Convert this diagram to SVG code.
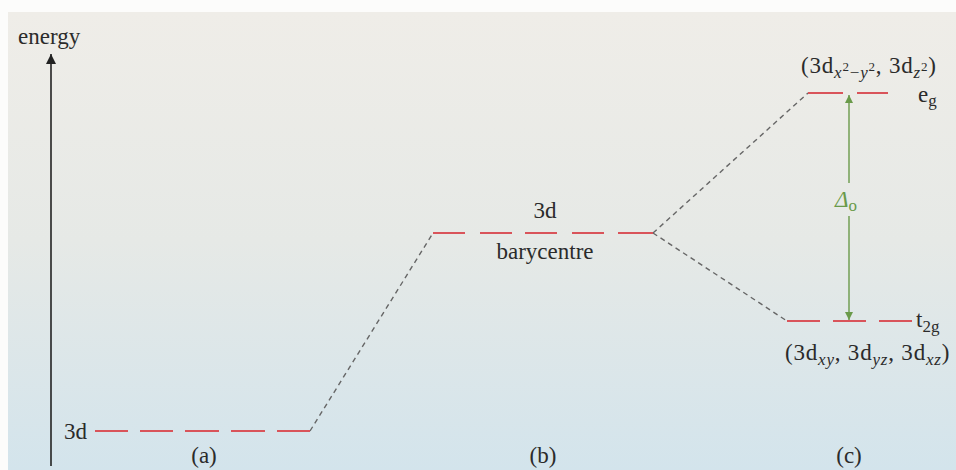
<svg xmlns="http://www.w3.org/2000/svg" width="956" height="470" viewBox="0 0 956 470">
<defs>
<linearGradient id="bg" x1="0" y1="0" x2="0" y2="1">
<stop offset="0" stop-color="#efede8"/>
<stop offset="0.5" stop-color="#e6e9e6"/>
<stop offset="1" stop-color="#d3e4ec"/>
</linearGradient>
<marker id="ah" viewBox="0 0 10 10" refX="10" refY="5" markerWidth="16" markerHeight="10" orient="auto" markerUnits="userSpaceOnUse">
<path d="M0,0 L10,5 L0,10 Z" fill="#222"/>
</marker>
<marker id="gh" viewBox="0 0 10 10" refX="10" refY="5" markerWidth="12" markerHeight="8" orient="auto" markerUnits="userSpaceOnUse">
<path d="M0,0 L10,5 L0,10 Z" fill="#6a9a4a"/>
</marker>
<style>
.t{font-family:"Liberation Serif","Times New Roman",serif;fill:#2b2b2b;font-size:23px;}
.s{font-size:17px;}
.i{font-style:italic;}
.sup{font-size:13px;}
.lvl{stroke:#d9545a;stroke-width:2;fill:none;}
.con{stroke:#666;stroke-width:1.4;stroke-dasharray:5,4;fill:none;}
.g{stroke:#6a9a4a;stroke-width:1.4;}
</style>
</defs>
<rect x="0" y="0" width="956" height="470" fill="#fcfcfb"/>
<rect x="8" y="12" width="948" height="458" fill="url(#bg)"/>

<g id="axis">
<line x1="51" y1="466" x2="51" y2="54" stroke="#222" stroke-width="1.6" marker-end="url(#ah)"/>
<text class="t" x="18" y="44">energy</text>
</g>

<g id="connectors">
<line class="con" x1="310" y1="431" x2="433" y2="233"/>
<line class="con" x1="653" y1="233" x2="808" y2="93"/>
<line class="con" x1="653" y1="233" x2="787" y2="321"/>
<line class="g" x1="849" y1="183" x2="849" y2="95" marker-end="url(#gh)"/>
<line class="g" x1="849" y1="216" x2="849" y2="320" marker-end="url(#gh)"/>
</g>

<g id="level-a">
<path class="lvl" d="M95,431h33M140,431h33M185,431h34M231,431h34M277,431h33"/>
<text class="t" x="64" y="439">3d</text>
<text class="t" x="204" y="463" text-anchor="middle">(a)</text>
</g>

<g id="level-b">
<path class="lvl" d="M433,233h32M480,233h32M525,233h32M572,233h32M618,233h35"/>
<text class="t" x="545" y="218" text-anchor="middle">3d</text>
<text class="t" x="545" y="259" text-anchor="middle">barycentre</text>
<text class="t" x="543" y="463" text-anchor="middle">(b)</text>
</g>

<g id="level-eg">
<path class="lvl" d="M808,93h35M857,93h31"/>
<text class="t" x="918" y="102">e<tspan class="s" dy="4">g</tspan></text>
<text class="t" x="801" y="73" letter-spacing="0.8">(3d<tspan class="s i" dy="5">x</tspan><tspan class="sup" dy="-7">2</tspan><tspan class="s" dy="7">−</tspan><tspan class="s i">y</tspan><tspan class="sup" dy="-7">2</tspan><tspan dy="2">, 3d</tspan><tspan class="s i" dy="5">z</tspan><tspan class="sup" dy="-7">2</tspan><tspan dy="2">)</tspan></text>
</g>

<g id="level-t2g">
<path class="lvl" d="M787,321h33M833,321h33M879,321h33"/>
<text class="t" x="916" y="327">t<tspan class="s" dy="5">2g</tspan></text>
<text class="t" x="785" y="360" letter-spacing="0.8">(3d<tspan class="s i" dy="5">xy</tspan><tspan dy="-5">, 3d</tspan><tspan class="s i" dy="5">yz</tspan><tspan dy="-5">, 3d</tspan><tspan class="s i" dy="5">xz</tspan><tspan dy="-5">)</tspan></text>
<text class="t" x="849" y="463" text-anchor="middle">(c)</text>
</g>

<g id="delta">
<text class="t i" x="835" y="207" style="fill:#6a9a4a">Δ<tspan class="s" dy="4" font-style="normal">o</tspan></text>
</g>
</svg>
